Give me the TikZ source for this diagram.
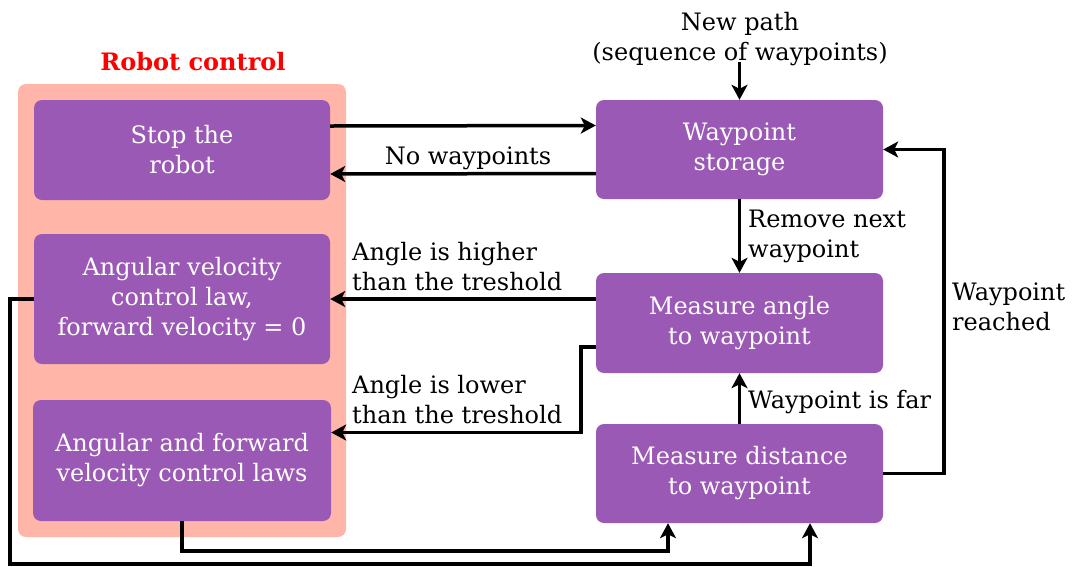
\documentclass[tikz,border=0pt]{standalone}
\usepackage{fontspec}
\setmainfont{DejaVu Serif}
\usetikzlibrary{arrows.meta,calc}
\definecolor{boxpurple}{RGB}{155,89,182}
\definecolor{groupbg}{RGB}{255,182,168}
\definecolor{titlered}{RGB}{255,0,0}
\tikzset{
  pbox/.style={fill=boxpurple, draw=none, rounded corners=8pt, text=white, align=center,
    inner sep=0pt, font=\fontsize{24}{30}\selectfont},
  lbl/.style={text=black, align=left, inner sep=0pt, font=\fontsize{24}{30}\selectfont},
  arr/.style={line width=3.5pt, -{Stealth[length=15pt,width=16pt,inset=4pt]}},
}
\begin{document}
\begin{tikzpicture}[x=1pt,y=-1pt]
\useasboundingbox (0,0) rectangle (1075,566);
% group background
\fill[groupbg, rounded corners=8pt] (18,84) rectangle (346,537);
\node[font=\fontsize{24}{30}\selectfont\bfseries, text=titlered, inner sep=0pt] (title) at (193,62) {Robot control};
% boxes
\node[pbox, minimum width=296pt, minimum height=100pt] (stop) at (182,150) {Stop the\\robot};
\node[pbox, minimum width=296pt, minimum height=130pt] (angvel) at (182,299) {Angular velocity\\control law,\\forward velocity = 0};
\node[pbox, minimum width=298pt, minimum height=121pt] (af) at (182,460.5) {Angular and forward\\velocity control laws};
\node[pbox, minimum width=287pt, minimum height=99pt] (store) at (739.5,149.5) {Waypoint\\storage};
\node[pbox, minimum width=287pt, minimum height=100pt] (angle) at (739.5,323) {Measure angle\\to waypoint};
\node[pbox, minimum width=287pt, minimum height=99pt] (dist) at (739.5,473.5) {Measure distance\\to waypoint};
% new path
\node[lbl, align=center] (newpath) at (740,39) {New path\\(sequence of waypoints)};
\coordinate (npend) at (739.5,62);
\draw[arr] (npend) -- (store.north);
% stop <-> storage
\draw[arr] ([yshift=24pt]stop.east) -- ([yshift=24pt]store.west);
\draw[arr] ([yshift=-24pt]store.west) -- ([yshift=-24pt]stop.east);
\node[lbl] (nowp) at (468,158) {No waypoints};
% storage -> angle
\draw[arr] (store.south) -- (angle.north);
\node[lbl, anchor=west] (remove) at (748,236) {Remove next\\waypoint};
% angle -> angvel
\draw[arr] ([yshift=24pt]angle.west) -- (angvel.east);
\node[lbl, anchor=west] (higher) at (352,267) {Angle is higher\\than the treshold};
% angle -> af
\draw[arr] ([yshift=-24pt]angle.west) -- ++(-15,0) |- ([yshift=28pt]af.east);
\node[lbl, anchor=west] (lower) at (352,399.5) {Angle is lower\\than the treshold};
% dist -> angle
\draw[arr] (dist.north) -- (angle.south);
\node[lbl, anchor=west] (far) at (748,402) {Waypoint is far};
% dist -> storage
\draw[arr] (dist.east) -- ++(61,0) |- (store.east);
\node[lbl, anchor=west] (reached) at (952,307) {Waypoint\\reached};
% af -> dist
\draw[arr] (af.south) -- ++(0,30) -| ([xshift=-71.5pt]dist.south);
% angvel -> dist
\draw[arr] (angvel.west) -- ++(-24,0) -- ++(0,265) -| ([xshift=70.5pt]dist.south);
\end{tikzpicture}
\end{document}
